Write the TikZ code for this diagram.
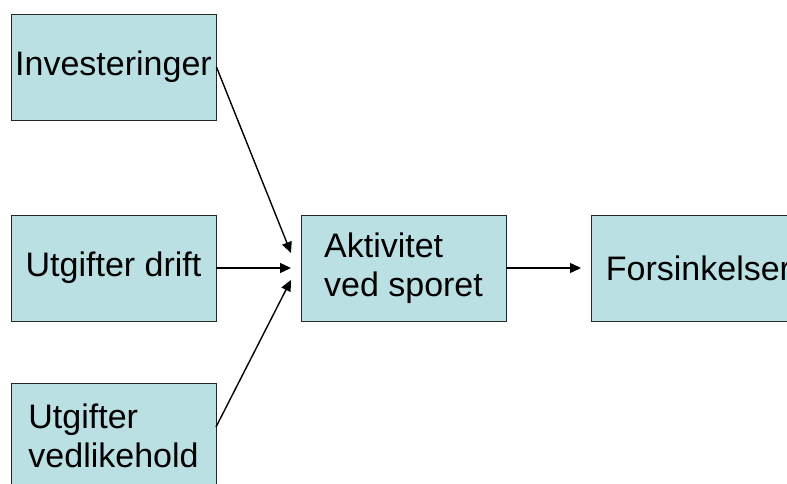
\documentclass[tikz,border=0pt]{standalone}
\usepackage{fontspec}
\setmainfont{Liberation Sans}
\usetikzlibrary{arrows.meta}
\definecolor{boksfarge}{HTML}{BBE0E3}
\tikzset{
  boks/.style={draw=black!85, line width=0.9pt, fill=boksfarge,
    minimum width=205pt, minimum height=106pt, inner sep=2pt,
    align=left, font=\fontsize{34}{39}\selectfont},
  pil/.style={line width=1.4pt, -{Triangle[length=11pt,width=10pt]}}
}
\begin{document}
\begin{tikzpicture}[x=1pt,y=-1pt]
                \useasboundingbox (0,0) rectangle (787,484);
                \clip (0,0) rectangle (787,484);

                % boksene
                \node[boks] (inv) at (113.5,67) {Investeringer};
                \node[boks] (drift) at (113.5,268) {Utgifter drift};
                \node[boks] (vedl) at (113.5,436) {Utgifter\\vedlikehold};
                \node[boks] (akt) at (403.5,268) {Aktivitet\\ved sporet};
                \node[boks] (fors) at (693.5,268) {\hspace*{10pt}Forsinkelser};

                % endepunkter for pilene
                \coordinate (vedlut) at (216,427);
                \coordinate (inn1) at (291,253);
                \coordinate (inn2) at (291,268);
                \coordinate (inn3) at (291,280);
                \coordinate (inn4) at (581,268);

                % pilene
                \draw[pil] (inv.east) -- (inn1);
                \draw[pil] (drift.east) -- (inn2);
                \draw[pil] (vedlut) -- (inn3);
                \draw[pil] (akt.east) -- (inn4);
            \end{tikzpicture}
\end{document}
